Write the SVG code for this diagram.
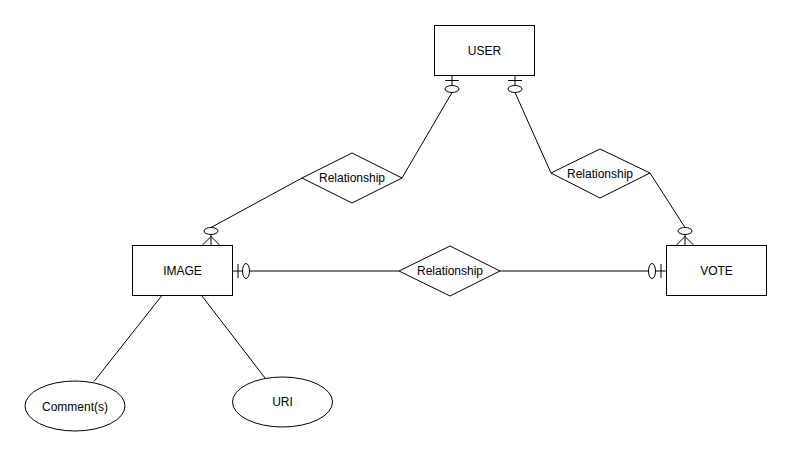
<svg xmlns="http://www.w3.org/2000/svg" width="792" height="457" viewBox="0 0 792 457">
  <style>
    .shape { fill: #ffffff; stroke: #000000; stroke-width: 1; }
    .line { fill: none; stroke: #000000; stroke-width: 1; }
    .mark { fill: #ffffff; stroke: #000000; stroke-width: 1; }
    .label { font-family: "Liberation Sans", Arial, Helvetica, sans-serif; font-size: 12px; fill: #000000; text-anchor: middle; dominant-baseline: central; }
  </style>
  <rect width="792" height="457" fill="#ffffff"/>

  <!-- connectors -->
  <g id="connectors">
    <!-- USER (one, optional) to left relationship -->
    <g id="edge-user-rel1">
      <path class="line" d="M452 75.5 V85.5 M452 92.5 L402 178"/>
      <path class="line" d="M445 80.5 H459"/>
      <ellipse class="mark" cx="452" cy="89" rx="7" ry="3.5"/>
    </g>
    <!-- USER (one, optional) to right relationship -->
    <g id="edge-user-rel2">
      <path class="line" d="M515 75.5 V85.5 M515 92.5 L551 173"/>
      <path class="line" d="M508 80.5 H522"/>
      <ellipse class="mark" cx="515" cy="89" rx="7" ry="3.5"/>
    </g>
    <!-- left relationship to IMAGE (zero or many) -->
    <g id="edge-rel1-image">
      <path class="line" d="M302 178 L211 227.5"/>
      <path class="line" d="M211 234.5 V245.5 M211 236.5 L202 245.5 M211 236.5 L220 245.5"/>
      <ellipse class="mark" cx="211" cy="231" rx="7" ry="3.5"/>
    </g>
    <!-- right relationship to VOTE (zero or many) -->
    <g id="edge-rel2-vote">
      <path class="line" d="M650 173 L685 227.5"/>
      <path class="line" d="M685 234.5 V245.5 M685 236.5 L676 245.5 M685 236.5 L694 245.5"/>
      <ellipse class="mark" cx="685" cy="231" rx="7" ry="3.5"/>
    </g>
    <!-- IMAGE (one, optional) to middle relationship -->
    <g id="edge-image-rel3">
      <path class="line" d="M232.5 271 H242.5 M249.5 271 H399"/>
      <path class="line" d="M238 264 V278"/>
      <ellipse class="mark" cx="246" cy="271" rx="3.5" ry="7.5"/>
    </g>
    <!-- middle relationship to VOTE (one, optional) -->
    <g id="edge-rel3-vote">
      <path class="line" d="M500 271 H648.5 M655.5 271 H666.5"/>
      <path class="line" d="M661 264 V278"/>
      <ellipse class="mark" cx="652" cy="271" rx="3.5" ry="7.5"/>
    </g>
    <!-- IMAGE attributes -->
    <path id="edge-image-comments" class="line" d="M161.5 296 L94 381.5"/>
    <path id="edge-image-uri" class="line" d="M202 296 L265 378"/>
  </g>

  <!-- entities -->
  <g id="user">
    <rect class="shape" x="434.5" y="25.5" width="100" height="50"/>
    <text class="label" x="484.5" y="50.5">USER</text>
  </g>
  <g id="image">
    <rect class="shape" x="132.5" y="245.5" width="100" height="50"/>
    <text class="label" x="182.5" y="270.5">IMAGE</text>
  </g>
  <g id="vote">
    <rect class="shape" x="666.5" y="245.5" width="100" height="50"/>
    <text class="label" x="716.5" y="270.5">VOTE</text>
  </g>

  <!-- relationships -->
  <g id="rel-user-image">
    <polygon class="shape" points="302,178 352,153 402,178 352,203"/>
    <text class="label" x="352" y="178">Relationship</text>
  </g>
  <g id="rel-user-vote">
    <polygon class="shape" points="551,173 600,149 650,173 600,198"/>
    <text class="label" x="600" y="173.5">Relationship</text>
  </g>
  <g id="rel-image-vote">
    <polygon class="shape" points="399,271 450,246 500,271 450,296"/>
    <text class="label" x="450" y="271">Relationship</text>
  </g>

  <!-- attributes -->
  <g id="attr-comments">
    <ellipse class="shape" cx="75" cy="406" rx="50" ry="25"/>
    <text class="label" x="75" y="406.5">Comment(s)</text>
  </g>
  <g id="attr-uri">
    <ellipse class="shape" cx="282.5" cy="402" rx="50" ry="25"/>
    <text class="label" x="282.5" y="402">URI</text>
  </g>
</svg>
